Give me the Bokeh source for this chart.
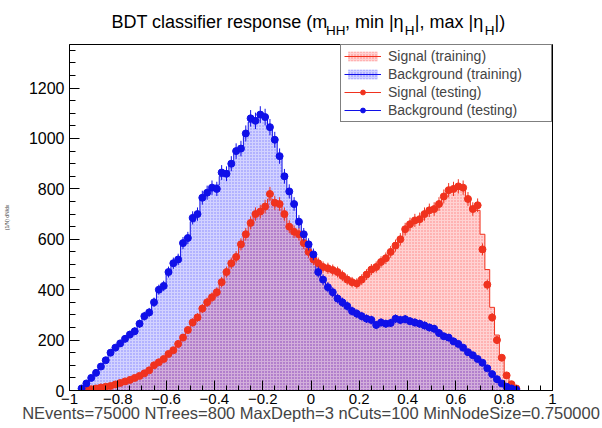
import numpy as np
from bokeh.plotting import figure
from bokeh.layouts import column
from bokeh.core.properties import value
from bokeh.models import (Range1d, SingleIntervalTicker, CustomJSTickFormatter,
                          Legend, LegendItem, ColumnDataSource)
from bokeh.embed import file_html
from bokeh.resources import INLINE

# ---------------- data ----------------
x_lo, x_hi, n_bins = -1.0, 1.0, 100

sig_train = [0, 0, 0, 3, 5, 9, 12, 15, 19, 23, 29, 35, 43, 50, 58, 68, 80, 96, 110, 126,
             143, 162, 185, 210, 238, 265, 292, 322, 348, 372, 398, 432, 465, 500, 535, 575, 615, 660, 690, 705,
             720, 760, 740, 730, 700, 655, 630, 610, 580, 550,
             525, 505, 495, 485, 475, 468, 455, 442, 432, 428, 438, 455, 475, 492, 508, 528, 548, 572, 602, 635,
             655, 670, 685, 700, 712, 725, 742, 765, 790, 800, 805, 800, 765, 725, 715, 620, 480, 330, 220, 135,
             65, 25, 8, 0, 0, 0, 0, 0, 0, 0]

bkg_train = [0, 0, 6, 25, 48, 72, 96, 122, 148, 168, 188, 205, 222, 240, 265, 292, 318, 350, 392, 420,
             462, 500, 528, 575, 612, 670, 705, 755, 785, 800, 815, 850, 870, 905, 940, 970, 1020, 1065, 1080, 1090,
             1080, 1040, 990, 930, 860, 795, 735, 675, 620, 575,
             535, 475, 440, 412, 390, 368, 350, 333, 318, 305, 295, 287, 278, 270, 268, 266, 268, 278, 280, 280,
             274, 268, 262, 256, 250, 242, 230, 218, 208, 196, 184, 170, 155, 140, 125, 108, 88, 66, 46, 28,
             15, 7, 2, 0, 0, 0, 0, 0, 0, 0]

sig_test = [0, 0, 0, 2, 5, 8, 12, 15, 18, 24, 30, 36, 42, 50, 58, 68, 80, 100, 112, 125,
            145, 160, 185, 210, 240, 270, 290, 325, 350, 370, 390, 430, 470, 505, 530, 580, 620, 665, 700, 710,
            730, 780, 745, 740, 700, 650, 630, 620, 585, 550,
            520, 505, 490, 485, 478, 470, 455, 440, 430, 425, 440, 460, 480, 490, 510, 525, 550, 575, 600, 640,
            660, 675, 680, 700, 715, 720, 740, 770, 795, 800, 810, 805, 760, 720, 735, 560, 420, 290, 200, 130,
            60, 25, 8, 0, 0, 0, 0, 0, 0, 0]

bkg_test = [0, 0, 8, 28, 50, 70, 95, 120, 150, 170, 187, 205, 222, 235, 265, 295, 310, 350, 400, 415,
            470, 505, 520, 585, 605, 685, 700, 765, 785, 805, 800, 865, 860, 900, 950, 960, 1020, 1080, 1070, 1095,
            1085, 1045, 995, 930, 850, 790, 740, 670, 620, 580,
            540, 470, 440, 410, 390, 365, 350, 335, 315, 305, 295, 285, 280, 260, 270, 265, 268, 285, 280, 283,
            275, 270, 265, 258, 250, 245, 228, 215, 210, 195, 185, 170, 152, 140, 125, 110, 88, 65, 45, 28,
            15, 8, 3, 0, 0, 0, 0, 0, 0, 0]

title_parts = ["BDT classifier response (m", "HH", ", min |\u03b7", "H", "|, max |\u03b7", "H", "|)"]
x_title = "NEvents=75000 NTrees=800 MaxDepth=3 nCuts=100 MinNodeSize=0.750000"
y_title = "(1/N) dN/dx"
legend_labels = ["Signal (training)", "Background (training)", "Signal (testing)", "Background (testing)"]

# ---------------- styling ----------------
RED = "#f0321e"
BLUE = "#1010e8"
FONT = "Liberation Sans"
W = 602
HEAD_H = 43
MAIN_H = 385
BL, BR = 68, 50   # left / right borders (shared by both stacked figures)

# ---------------- title strip (pixel coordinates) ----------------
head = figure(width=W, height=HEAD_H, output_backend="svg", toolbar_location=None, title=None,
              x_range=Range1d(BL, W - BR), y_range=Range1d(HEAD_H, 0),
              x_axis_type=None, y_axis_type=None,
              min_border_left=BL, min_border_right=BR, min_border_top=0, min_border_bottom=0)
head.outline_line_color = None
head.xgrid.visible = False
head.ygrid.visible = False
title_x = [110, 325, 344, 404, 414, 484, 494]
title_sub = [False, True, False, True, False, True, False]
main_idx = [i for i, s in enumerate(title_sub) if not s]
sub_idx = [i for i, s in enumerate(title_sub) if s]
head.text(x=[title_x[i] for i in main_idx], y=[21] * len(main_idx),
          text=[title_parts[i] for i in main_idx], text_font=value(FONT),
          text_font_size="18px", text_baseline="alphabetic", text_align="left", text_color="black")
head.text(x=[title_x[i] for i in sub_idx], y=[29.5] * len(sub_idx),
          text=[title_parts[i] for i in sub_idx], text_font=value(FONT),
          text_font_size="13.5px", text_baseline="alphabetic", text_align="left", text_color="black")

# ---------------- main plot ----------------
edges = np.linspace(x_lo, x_hi, n_bins + 1)
centers = 0.5 * (edges[:-1] + edges[1:])
half = 0.5 * (edges[1] - edges[0])

p = figure(width=W, height=MAIN_H, output_backend="svg", toolbar_location=None,
           x_range=Range1d(-1, 1), y_range=Range1d(0, 1373),
           min_border_left=BL, min_border_right=BR, min_border_top=1, min_border_bottom=38)
p.background_fill_color = "white"
p.border_fill_color = "white"
p.outline_line_color = "black"
p.outline_line_width = 1
p.xgrid.visible = False
p.ygrid.visible = False


def hist_area(vals, color, pattern):
    src = ColumnDataSource(dict(left=edges[:-1], right=edges[1:], top=vals, bottom=[0] * len(vals)))
    return p.quad(left="left", right="right", top="top", bottom="bottom", source=src,
                  fill_color=color, fill_alpha=0.2, line_alpha=0,
                  hatch_pattern=pattern, hatch_color=color, hatch_alpha=0.45,
                  hatch_scale=3, hatch_weight=1)


def hist_line(vals, color):
    ys = list(vals) + [vals[-1]]
    return p.step(x=list(edges), y=ys, mode="after", line_color=color, line_width=1)


sig_area = hist_area(sig_train, "#ff2020", "dot")
bkg_area = hist_area(bkg_train, "#2020ff", "dot")
sig_line = hist_line(sig_train, RED)
bkg_line = hist_line(bkg_train, BLUE)


def test_points(vals, color):
    xs = [c for c, v in zip(centers, vals) if v > 0]
    ys = [v for v in vals if v > 0]
    err = [np.sqrt(v) for v in ys]
    src = ColumnDataSource(dict(x=xs, y=ys, lo=[y - e for y, e in zip(ys, err)],
                                hi=[y + e for y, e in zip(ys, err)],
                                xl=[x - half for x in xs], xr=[x + half for x in xs]))
    box = p.quad(left=[], right=[], top=[], bottom=[], fill_alpha=0, line_color=color, line_width=1)
    p.segment(x0="x", y0="lo", x1="x", y1="hi", source=src, line_color=color, line_width=1)
    hseg = p.segment(x0="xl", y0="y", x1="xr", y1="y", source=src, line_color=color, line_width=1)
    dots = p.scatter(x="x", y="y", source=src, marker="circle", size=7,
                     fill_color=color, line_color=color)
    return [box, hseg, dots]


sig_pts = test_points(sig_test, RED)
bkg_pts = test_points(bkg_test, BLUE)

# axes
tick_fmt = CustomJSTickFormatter(code="""
const t = Math.round(tick*100)/100;
let s = Number.isInteger(t) ? t.toFixed(0) : t.toFixed(1);
return s.replace('-', '\\u2212');
""")
p.xaxis.ticker = SingleIntervalTicker(interval=0.2, num_minor_ticks=4)
p.xaxis.formatter = tick_fmt
p.yaxis.ticker = SingleIntervalTicker(interval=200, num_minor_ticks=4)
for ax in (p.xaxis[0], p.yaxis[0]):
    ax.axis_line_color = "black"
    ax.major_tick_in = 10
    ax.major_tick_out = 0
    ax.minor_tick_in = 5
    ax.minor_tick_out = 0
    ax.major_tick_line_color = "black"
    ax.minor_tick_line_color = "black"
    ax.major_label_text_font = FONT
    ax.major_label_text_font_size = "16px"
    ax.major_label_text_color = "black"
    ax.major_label_standoff = 5
p.xaxis[0].major_label_text_font_size = "15px"
p.xaxis[0].major_label_standoff = 3
p.xaxis.axis_label = x_title
p.xaxis.axis_label_text_font = FONT
p.xaxis.axis_label_text_font_size = "16.5px"
p.xaxis.axis_label_text_font_style = "normal"
p.xaxis.axis_label_standoff = -3
p.yaxis[0].minor_tick_in = 6
p.yaxis.axis_label = y_title
p.yaxis.axis_label_text_font = FONT
p.yaxis.axis_label_text_font_size = "5px"
p.yaxis.axis_label_text_font_style = "normal"
p.yaxis.axis_label_standoff = 16

legend = Legend(items=[
    LegendItem(label=legend_labels[0], renderers=[sig_area, sig_line]),
    LegendItem(label=legend_labels[1], renderers=[bkg_area, bkg_line]),
    LegendItem(label=legend_labels[2], renderers=sig_pts),
    LegendItem(label=legend_labels[3], renderers=bkg_pts),
], location="top_right", margin=0, padding=3, spacing=2,
    glyph_width=37, glyph_height=12, label_height=16, label_width=160, label_standoff=7,
    label_text_font=FONT, label_text_font_size="14px",
    border_line_color="black", border_line_width=1, background_fill_alpha=1.0)
p.add_layout(legend, "center")

layout = column(head, p, spacing=0)
open("out.html", "w").write(file_html(layout, INLINE))
